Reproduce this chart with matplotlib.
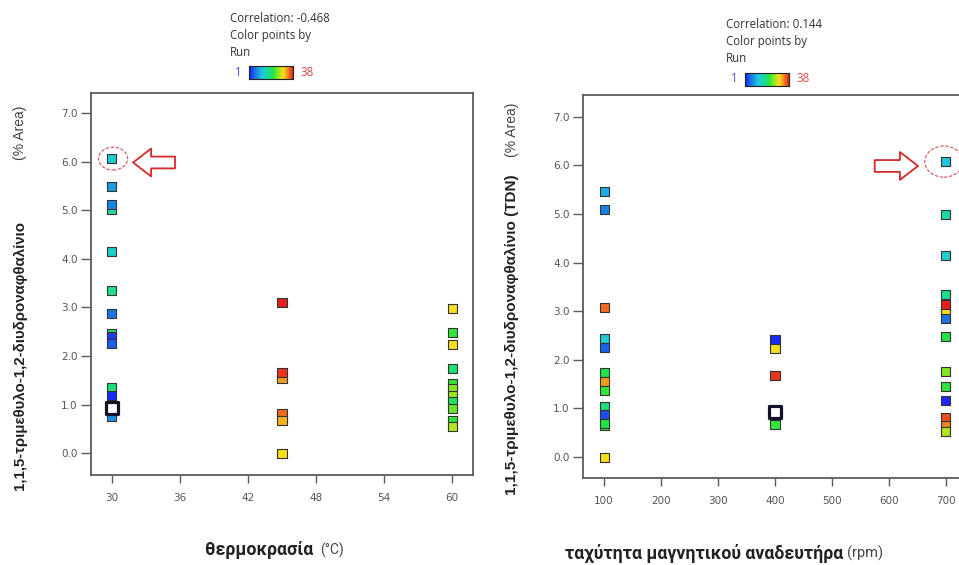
import matplotlib
matplotlib.use('Agg')
import matplotlib.pyplot as plt
from matplotlib.colors import LinearSegmentedColormap, Normalize
from matplotlib.patches import Ellipse
import numpy as np

W, H = 959, 565

# run colouring (1..38)
RUN_MIN, RUN_MAX = 1, 38
run_colors = [(0.0, '#1a1aff'), (0.14, '#1a78e6'), (0.30, '#1ec8dc'),
              (0.45, '#1edc96'), (0.55, '#1ee63c'), (0.68, '#a0e61e'),
              (0.78, '#f5e11e'), (0.88, '#f5911e'), (1.0, '#e61e1e')]
run_cmap = LinearSegmentedColormap.from_list('run', run_colors)
run_norm = Normalize(RUN_MIN, RUN_MAX)

# TDN (% Area) against temperature
temp = [30] * 13 + [45] * 6 + [60] * 11
temp_area = [6.07, 5.48, 5.01, 5.11, 4.15, 3.35, 2.87, 2.47, 2.39, 2.26, 1.35, 1.18, 0.75,
             3.10, 1.54, 1.66, 0.82, 0.67, 0.00,
             2.98, 2.48, 2.24, 1.74, 1.43, 1.33, 1.19, 1.06, 0.92, 0.68, 0.54]
temp_run = [13, 9, 17, 7, 14, 18, 6, 20, 3, 5, 19, 2, 8,
            38, 33, 37, 35, 32, 30,
            30, 22, 30, 19, 22, 25, 26, 20, 24, 22, 27]
temp_corr = -0.468
temp_ticks = [30, 36, 42, 48, 54, 60]

# TDN (% Area) against stirrer speed
speed = [100] * 13 + [400] * 4 + [700] * 14
speed_area = [5.47, 5.10, 3.07, 2.44, 2.25, 1.75, 1.56, 1.37, 1.04, 0.88, 0.64, 0.69, 0.00,
              2.41, 2.24, 1.67, 0.68,
              6.08, 5.00, 4.14, 3.35, 3.01, 3.13, 2.85, 2.48, 1.76, 1.45, 1.16, 0.82, 0.66, 0.52]
speed_run = [10, 7, 35, 13, 5, 21, 33, 22, 19, 4, 23, 21, 30,
             2, 30, 37, 22,
             12, 16, 14, 18, 30, 38, 6, 21, 25, 22, 2, 36, 34, 27]
speed_corr = 0.144
speed_ticks = [100, 200, 300, 400, 500, 600, 700]

# selected run
sel_temp, sel_speed, sel_area = 30, 400, 0.93
# maximum of the response
max_temp, max_speed, max_area = 30, 700, 6.07

area_ticks = [0, 1, 2, 3, 4, 5, 6, 7]

fig = plt.figure(figsize=(W / 100, H / 100), dpi=100)


def fpos(x, y):
    return x / W, 1 - y / H


def style_axes(ax, xticks):
    for s in ax.spines.values():
        s.set_color('#5a5a5a')
        s.set_linewidth(1.3)
    ax.set_xticks(xticks)
    ax.set_xticklabels([str(t) for t in xticks])
    ax.set_yticks(area_ticks)
    ax.set_yticklabels(['%.1f' % t for t in area_ticks])
    ax.tick_params(axis='x', direction='out', length=6, width=1, color='#5a5a5a',
                   pad=7, labelsize=7.5, labelcolor='#555555')
    ax.tick_params(axis='y', direction='out', length=7.5, width=1, color='#5a5a5a',
                   pad=2, labelsize=7.5, labelcolor='#555555')
    for lab in ax.get_xticklabels() + ax.get_yticklabels():
        lab.set_family(['Liberation Sans Narrow', 'DejaVu Sans'])


def run_legend(x, y, corr):
    fs = 8.3
    fam = ['Open Sans', 'DejaVu Sans']
    fig.text(*fpos(x, y), 'Correlation: %g' % corr, fontsize=fs, family=fam,
             color='#333333', va='center')
    fig.text(*fpos(x, y + 17), 'Color points by', fontsize=fs, family=fam,
             color='#333333', va='center')
    fig.text(*fpos(x, y + 34), 'Run', fontsize=fs, family=fam,
             color='#333333', va='center')
    fig.text(*fpos(x + 8, y + 54), str(RUN_MIN), fontsize=fs, family=fam,
             color='#5050d0', va='center', ha='center')
    fig.text(*fpos(x + 70, y + 54), str(RUN_MAX), fontsize=fs, family=fam,
             color='#e04848', va='center')
    bx, by = fpos(x + 19, y + 61)
    cax = fig.add_axes([bx, by, 44 / W, 13 / H])
    cax.imshow(np.linspace(0, 1, 128)[None, :], aspect='auto', cmap=run_cmap)
    cax.set_xticks([])
    cax.set_yticks([])
    for s in cax.spines.values():
        s.set_color('#222222')
        s.set_linewidth(0.8)


def marker_arrow(ax, tail, tip):
    ax.annotate('', xy=tip, xytext=tail,
                arrowprops=dict(arrowstyle='simple,head_length=1.3,head_width=2.0,tail_width=0.85',
                                fc='white', ec='#d42a2a', lw=1.3, mutation_scale=10,
                                shrinkA=0, shrinkB=0))


# temperature panel
ax1 = fig.add_axes([91 / W, 1 - 475 / H, 382 / W, 382 / H])
ax1.scatter(temp, temp_area, c=temp_run, cmap=run_cmap, norm=run_norm, marker='s',
            s=42, edgecolors='#333333', linewidths=0.8, zorder=3)
ax1.scatter([sel_temp], [sel_area], marker='s', s=80, facecolors='white',
            edgecolors='#12122a', linewidths=2.3, zorder=4)
ax1.set_xlim(28.15, 61.85)
ax1.set_ylim(-0.45, 7.41)
style_axes(ax1, temp_ticks)
ax1.add_patch(Ellipse((max_temp + 0.1, max_area - 0.01), 2.56, 0.47, fill=False,
                      ec='#d85050', lw=0.8, ls=(0, (3, 1.5)), zorder=5))
marker_arrow(ax1, (35.56, max_area - 0.09), (31.86, max_area - 0.09))

# stirrer speed panel
ax2 = fig.add_axes([583 / W, 1 - 478 / H, 384 / W, 383 / H])
ax2.scatter(speed, speed_area, c=speed_run, cmap=run_cmap, norm=run_norm, marker='s',
            s=42, edgecolors='#333333', linewidths=0.8, zorder=3)
ax2.scatter([sel_speed], [sel_area], marker='s', s=80, facecolors='white',
            edgecolors='#12122a', linewidths=2.3, zorder=4)
ax2.set_xlim(63, 737)
ax2.set_ylim(-0.43, 7.45)
style_axes(ax2, speed_ticks)
ax2.add_patch(Ellipse((max_speed - 3.5, max_area + 0.01), 67, 0.64, fill=False,
                      ec='#d85050', lw=0.8, ls=(0, (3, 1.5)), zorder=5))
marker_arrow(ax2, (575, max_area - 0.08), (651, max_area - 0.08))

run_legend(230, 18, temp_corr)
run_legend(726, 25, speed_corr)

# axis titles
yfam = ['Liberation Sans', 'DejaVu Sans']
xfam = ['Roboto', 'DejaVu Sans']
fig.text(*fpos(20, 490), '1,1,5-τριμεθυλο-1,2-διυδροναφθαλίνιο', rotation=90,
         rotation_mode='anchor', ha='left', va='center', fontsize=10.8,
         fontweight='bold', family=yfam, color='#222222')
fig.text(*fpos(20, 160), '(% Area)', rotation=90, rotation_mode='anchor',
         ha='left', va='center', fontsize=10, family=yfam, color='#444444')
fig.text(*fpos(512, 495), '1,1,5-τριμεθυλο-1,2-διυδροναφθαλίνιο (TDN)', rotation=90,
         rotation_mode='anchor', ha='left', va='center', fontsize=11,
         fontweight='bold', family=yfam, color='#222222')
fig.text(*fpos(512, 157), '(% Area)', rotation=90, rotation_mode='anchor',
         ha='left', va='center', fontsize=10, family=yfam, color='#444444')

fig.text(*fpos(205, 550), 'θερμοκρασία', ha='left', va='center', fontsize=12.8,
         fontweight='bold', family=xfam, color='#222222')
fig.text(*fpos(320, 550), '(°C)', ha='left', va='center', fontsize=10,
         family=xfam, color='#444444')
fig.text(*fpos(565, 553), 'ταχύτητα μαγνητικού αναδευτήρα', ha='left', va='center',
         fontsize=12.8, fontweight='bold', family=xfam, color='#222222')
fig.text(*fpos(847, 553), '(rpm)', ha='left', va='center', fontsize=10.5,
         family=xfam, color='#444444')

fig.savefig('out.png', dpi=100, facecolor='white')
